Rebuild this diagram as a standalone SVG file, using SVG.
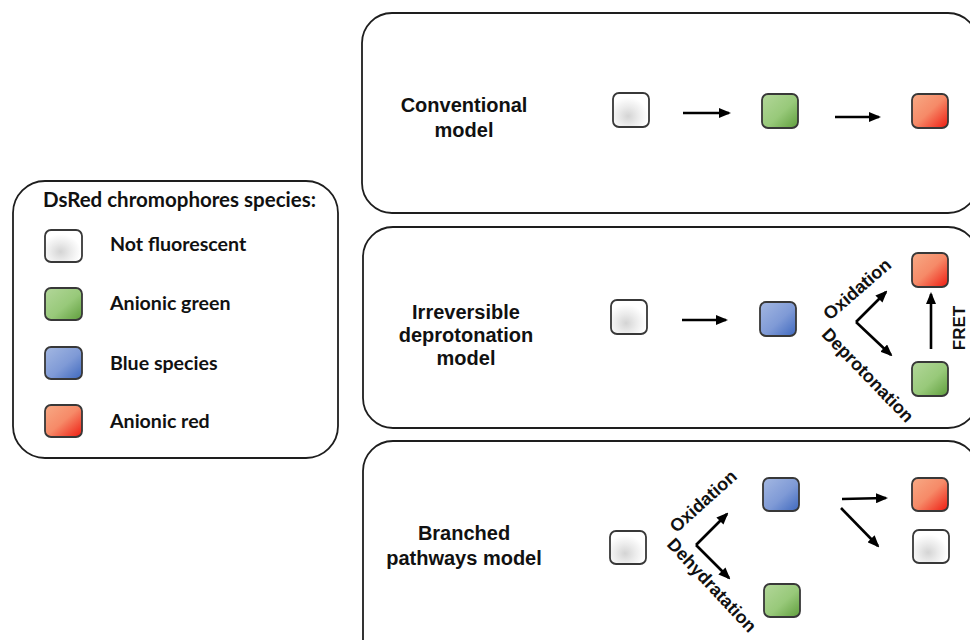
<svg xmlns="http://www.w3.org/2000/svg" width="970" height="640" viewBox="0 0 970 640">
<defs>
<style>
.panel{fill:#fff;stroke:#1e1e1e;stroke-width:1.8}
.sq{stroke:#383838;stroke-width:1.8}
.lbl{font-family:"Liberation Sans",Arial,sans-serif;font-weight:bold;font-size:20px;fill:#111;text-anchor:middle}
.rot{font-family:"Liberation Sans",Arial,sans-serif;font-weight:bold;font-size:18px;fill:#111;text-anchor:middle}
.leg{font-family:Lato,"Open Sans",sans-serif;font-weight:bold;font-size:19.6px;fill:#111}
.conn line{stroke:#000;stroke-width:2.6;marker-end:url(#ah)}
</style>
<marker id="ah" markerUnits="userSpaceOnUse" markerWidth="12" markerHeight="10" refX="10" refY="5" orient="auto">
<path d="M0,0 L12,5 L0,10 z" fill="#000"/>
</marker>
<radialGradient id="gw" cx="0.42" cy="0.68" r="0.55">
<stop offset="0" stop-color="#d4d4d4"/>
<stop offset="0.5" stop-color="#ebebeb"/>
<stop offset="1" stop-color="#ffffff"/>
</radialGradient>
<linearGradient id="gg" x1="0" y1="0" x2="1" y2="1">
<stop offset="0" stop-color="#b3d79a"/>
<stop offset="0.55" stop-color="#98c97a"/>
<stop offset="1" stop-color="#5f9e3c"/>
</linearGradient>
<linearGradient id="gr" x1="0" y1="0" x2="1" y2="1">
<stop offset="0" stop-color="#f7aa85"/>
<stop offset="0.5" stop-color="#f68a68"/>
<stop offset="1" stop-color="#ee1a10"/>
</linearGradient>
<linearGradient id="gb" x1="0" y1="0" x2="1" y2="1">
<stop offset="0" stop-color="#a4b8e2"/>
<stop offset="0.55" stop-color="#7f9ad6"/>
<stop offset="1" stop-color="#3e68be"/>
</linearGradient>
</defs>
<rect width="970" height="640" fill="#fff"/>

<g id="legend">
<rect class="panel" x="13" y="181" width="325" height="277" rx="32"/>
<text class="leg" x="43" y="207" style="font-size:20.5px">DsRed chromophores species:</text>
<rect class="sq" x="45" y="230" width="37" height="32" rx="6" fill="url(#gw)"/>
<text class="leg" x="110" y="251">Not fluorescent</text>
<rect class="sq" x="45" y="288" width="37" height="32" rx="6" fill="url(#gg)"/>
<text class="leg" x="110" y="310">Anionic green</text>
<rect class="sq" x="45" y="347" width="37" height="32" rx="6" fill="url(#gb)"/>
<text class="leg" x="110" y="370">Blue species</text>
<rect class="sq" x="45" y="405" width="37" height="32" rx="6" fill="url(#gr)"/>
<text class="leg" x="110" y="428">Anionic red</text>
</g>

<g id="panel-conventional">
<rect class="panel" x="362" y="13" width="616" height="200" rx="30"/>
<text class="lbl" x="464" y="112">Conventional</text>
<text class="lbl" x="464" y="137">model</text>
<rect class="sq" x="613" y="93" width="36" height="34" rx="6" fill="url(#gw)"/>
<rect class="sq" x="762" y="94" width="36" height="34" rx="6" fill="url(#gg)"/>
<rect class="sq" x="912" y="94" width="36" height="34" rx="6" fill="url(#gr)"/>
</g>

<g id="panel-irreversible">
<rect class="panel" x="363" y="227" width="615" height="201" rx="30"/>
<text class="lbl" x="466" y="319">Irreversible</text>
<text class="lbl" x="466" y="342">deprotonation</text>
<text class="lbl" x="466" y="365">model</text>
<rect class="sq" x="611" y="300" width="36" height="34" rx="6" fill="url(#gw)"/>
<rect class="sq" x="760" y="302" width="36" height="34" rx="6" fill="url(#gb)"/>
<rect class="sq" x="912" y="253" width="36" height="34" rx="6" fill="url(#gr)"/>
<rect class="sq" x="912" y="362" width="36" height="34" rx="6" fill="url(#gg)"/>
<text class="rot" transform="translate(857,289) rotate(-41)" dy="0.35em">Oxidation</text>
<text class="rot" transform="translate(868,375) rotate(46)" dy="0.35em">Deprotonation</text>
<text class="rot" transform="translate(959,328) rotate(-90)" dy="0.35em" style="font-size:17px">FRET</text>
</g>

<g id="panel-branched">
<rect class="panel" x="363" y="441" width="615" height="230" rx="30"/>
<text class="lbl" x="464" y="540">Branched</text>
<text class="lbl" x="464" y="565">pathways model</text>
<rect class="sq" x="610" y="531" width="36" height="33" rx="6" fill="url(#gw)"/>
<rect class="sq" x="763" y="478" width="36" height="33" rx="6" fill="url(#gb)"/>
<rect class="sq" x="764" y="584" width="36" height="33" rx="6" fill="url(#gg)"/>
<rect class="sq" x="912" y="478" width="36" height="33" rx="6" fill="url(#gr)"/>
<rect class="sq" x="913" y="530" width="36" height="33" rx="6" fill="url(#gw)"/>
<text class="rot" transform="translate(703,501) rotate(-42)" dy="0.35em">Oxidation</text>
<text class="rot" transform="translate(712,585) rotate(47)" dy="0.35em">Dehydratation</text>
</g>

<g id="connectors" class="conn">
<line x1="683" y1="113" x2="729" y2="113"/>
<line x1="835" y1="117" x2="879" y2="117"/>
<line x1="682" y1="320" x2="726" y2="320"/>
<line x1="856" y1="322" x2="886" y2="292"/>
<line x1="856" y1="322" x2="891" y2="355"/>
<line x1="931" y1="349" x2="931" y2="294"/>
<line x1="696" y1="545" x2="727" y2="514"/>
<line x1="696" y1="545" x2="729" y2="578"/>
<line x1="842" y1="499" x2="886" y2="498"/>
<line x1="841" y1="508" x2="878" y2="546"/>
</g>
</svg>
